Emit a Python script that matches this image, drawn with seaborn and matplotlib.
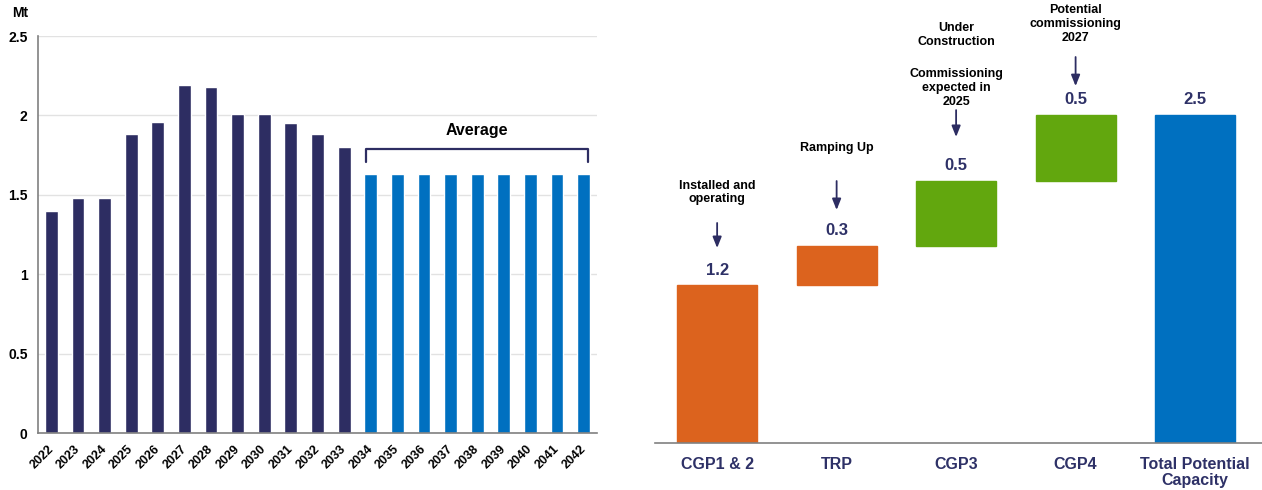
import matplotlib
matplotlib.use("Agg")
import matplotlib.pyplot as plt
import matplotlib.transforms as mtransforms
import numpy as np
import pandas as pd
import seaborn as sns

# ---- data: annual production (Mt) ----
years = ["2022", "2023", "2024", "2025", "2026", "2027", "2028", "2029", "2030",
         "2031", "2032", "2033", "2034", "2035", "2036", "2037", "2038", "2039",
         "2040", "2041", "2042"]
production = [1.40, 1.48, 1.48, 1.88, 1.96, 2.19, 2.18, 2.01, 2.01, 1.95, 1.88,
              1.80, 1.63, 1.63, 1.63, 1.63, 1.63, 1.63, 1.63, 1.63, 1.63]
period = ["Annual"] * 12 + ["Average"] * 9
y_ticks = [0, 0.5, 1, 1.5, 2, 2.5]
y_tick_labels = ["0", "0.5", "1", "1.5", "2", "2.5"]

# ---- data: capacity build-up (Mt) ----
projects = ["CGP1 & 2", "TRP", "CGP3", "CGP4", "Total Potential\nCapacity"]
capacity = [1.2, 0.3, 0.5, 0.5, 2.5]
capacity_labels = ["1.2", "0.3", "0.5", "0.5", "2.5"]
is_total = [False, False, False, False, True]
status_notes = ["Installed and\noperating", "Ramping Up",
                "Commissioning\nexpected in\n2025", "Potential\ncommissioning\n2027", None]

# ---- styling ----
NAVY = "#2D2D62"
LABEL_NAVY = "#2E3167"
BLUE = "#0070C0"
ORANGE = "#DC631E"
GREEN = "#62A70E"
SPINE = "#808080"
bar_colors = [ORANGE, ORANGE, GREEN, GREEN, BLUE]

W, H = 1262, 490
sns.set_theme(style="white")
plt.rcParams["font.family"] = ["Liberation Sans", "DejaVu Sans"]
plt.rcParams["font.weight"] = "bold"

fig = plt.figure(figsize=(W / 100, H / 100), dpi=100)
fig.patch.set_facecolor("white")

# ================= left: production profile =================
ax1 = fig.add_axes([38 / W, 57 / H, 559 / W, 397 / H])
df = pd.DataFrame({"year": years, "mt": production, "period": period})
sns.barplot(data=df, x="year", y="mt", hue="period",
            palette={"Annual": NAVY, "Average": BLUE}, dodge=False,
            width=0.48, saturation=1, legend=False, ax=ax1)
ax1.set_xlim(-0.5, len(years) - 0.5)
ax1.set_ylim(0, 2.5)
ax1.set_yticks(y_ticks)
ax1.set_yticklabels(y_tick_labels)
ax1.set_xlabel("")
ax1.set_ylabel("")
ax1.set_axisbelow(True)
ax1.yaxis.grid(True, color="#E2E2E2", lw=1)
ax1.xaxis.grid(False)
for s in ("top", "right"):
    ax1.spines[s].set_visible(False)
for s in ("left", "bottom"):
    ax1.spines[s].set_color(SPINE)
    ax1.spines[s].set_linewidth(1.2)
ax1.tick_params(axis="both", length=0, labelcolor="black")
ax1.tick_params(axis="y", pad=7.5, labelsize=10)
ax1.tick_params(axis="x", pad=7, labelsize=9)
shift = mtransforms.ScaledTranslation(-4 / 100, 0, fig.dpi_scale_trans)
for lbl in ax1.get_xticklabels():
    lbl.set_rotation(45)
    lbl.set_ha("right")
    lbl.set_rotation_mode("anchor")
    lbl.set_fontweight("bold")
    lbl.set_transform(lbl.get_transform() + shift)
for lbl in ax1.get_yticklabels():
    lbl.set_fontweight("bold")

fig.text(20 / W, 1 - 13 / H, "Mt", ha="center", va="center", fontsize=10,
         fontweight="bold", color="black")

# bracket over the averaged years
avg_idx = [i for i, p in enumerate(period) if p == "Average"]
avg_val = production[avg_idx[0]]
x0, x1 = avg_idx[0] - 0.16, avg_idx[-1] + 0.15
y_lo, y_hi = avg_val + 0.075, avg_val + 0.158
ax1.plot([x0, x0, x1, x1], [y_lo, y_hi, y_hi, y_lo], color=NAVY, lw=1.6,
         solid_joinstyle="round", solid_capstyle="round")
ax1.text((x0 + x1) / 2, avg_val + 0.275, "Average", ha="center", va="center",
         fontsize=11.5, fontweight="bold", color="black")

# ================= right: capacity waterfall =================
bases = []
running = 0.0
for v, tot in zip(capacity, is_total):
    bases.append(0.0 if tot else running)
    running = running if tot else running + v

ax2 = fig.add_axes([655 / W, (H - 442.7) / H, (W - 655) / W, 442.7 / H])
sns.barplot(x=projects, y=capacity, bottom=bases, color=BLUE, width=0.67,
            saturation=1, ax=ax2)
for patch, c in zip(ax2.patches, bar_colors):
    patch.set_facecolor(c)
    patch.set_edgecolor(c)
ax2.set_xlim(-0.52, 4.56)
ax2.set_ylim(0, 442.7 / 131.1)
ax2.set_yticks([])
ax2.set_xlabel("")
ax2.set_ylabel("")
for s in ("top", "right", "left"):
    ax2.spines[s].set_visible(False)
ax2.spines["bottom"].set_color(SPINE)
ax2.spines["bottom"].set_linewidth(1.2)
ax2.tick_params(axis="x", length=0, pad=10, labelsize=11.5, labelcolor=LABEL_NAVY)
for lbl in ax2.get_xticklabels():
    lbl.set_fontweight("bold")
    lbl.set_va("top")
    lbl.set_linespacing(1.15)

for i, (b, v, lab) in enumerate(zip(bases, capacity, capacity_labels)):
    ax2.annotate(lab, xy=(i, b + v), xytext=(0, 11), textcoords="offset points",
                 ha="center", va="center", fontsize=12, fontweight="bold",
                 color=LABEL_NAVY)

# status notes with arrows (y in axis data units)
note_text_y = [1.908, 2.247, 2.706, 3.194]
arrow_tail_y = [1.676, 1.996, 2.537, 2.942]
arrow_tip_y = [1.485, 1.775, 2.332, 2.720]
for i in range(4):
    ax2.text(i, note_text_y[i], status_notes[i], ha="center", va="center",
             fontsize=9, fontweight="bold", color="black", linespacing=1.2)
    ax2.annotate("", xy=(i, arrow_tip_y[i]), xytext=(i, arrow_tail_y[i]),
                 arrowprops=dict(arrowstyle="-|>,head_length=0.55,head_width=0.22",
                                 color=NAVY, lw=1.3, shrinkA=0, shrinkB=0))
ax2.text(2, 3.110, "Under\nConstruction", ha="center", va="center", fontsize=9,
         fontweight="bold", color="black", linespacing=1.2)

fig.savefig("out.png", dpi=100, facecolor="white")
